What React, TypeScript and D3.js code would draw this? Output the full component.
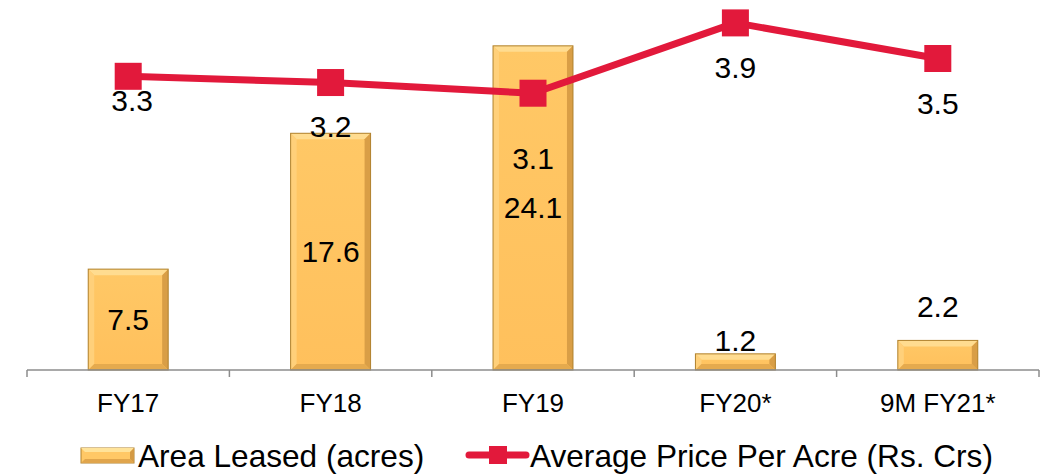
import React from "react";
import * as d3 from "d3";

const categories = ["FY17", "FY18", "FY19", "FY20*", "9M FY21*"];
const areaLeased = [7.5, 17.6, 24.1, 1.2, 2.2];
const avgPrice = [3.3, 3.23, 3.11, 3.9, 3.5];
const barLabelInside = [true, true, true, false, false];
const barLabelAboveOffset = [0, 0, 0, 13, 34];
const priceLabelOffset = [24, 44, 65, 45, 45];
const legendLabels = ["Area Leased (acres)", "Average Price Per Acre (Rs. Crs)"];

const W = 1046;
const H = 476;
const FONT = "'Liberation Sans', Arial, Helvetica, sans-serif";
const RED = "#E2193B";

export default function App() {
  const x = d3
    .scaleBand<string>()
    .domain(categories)
    .range([27, 1039])
    .paddingInner(0.605)
    .paddingOuter(0.3025);
  const step = x.step();
  const bw = x.bandwidth();
  const yBar = d3.scaleLinear().domain([0, 25]).range([370, 33.75]);
  const yLine = d3.scaleLinear().domain([0, 4]).range([370, 14]);
  const cx = (c: string) => (x(c) as number) + bw / 2;

  const line = d3
    .line<number>()
    .x((_, i) => cx(categories[i]))
    .y((d) => yLine(d));

  const bev = 6;
  const ms = 27;

  return (
    <svg
      width={W}
      height={H}
      style={{ position: "absolute", left: 0, top: 0, background: "#fff" }}
    >
      <defs>
        <linearGradient id="barFace" x1="0" y1="0" x2="0" y2="1">
          <stop offset="0" stopColor="#FFC866" />
          <stop offset="1" stopColor="#FFC05C" />
        </linearGradient>
      </defs>
      {areaLeased.map((v, i) => {
        const x0 = x(categories[i]) as number;
        const x1 = x0 + bw;
        const y0 = yBar(v);
        const y1 = yBar(0);
        const b = Math.min(bev, (y1 - y0) / 2.5);
        return (
          <g key={"bar" + i}>
            <rect x={x0} y={y0} width={bw} height={y1 - y0} fill="url(#barFace)" />
            <polygon
              points={`${x0},${y0} ${x1},${y0} ${x1 - b},${y0 + b} ${x0 + b},${y0 + b}`}
              fill="#FFDC90"
            />
            <polygon
              points={`${x0},${y0} ${x0 + b},${y0 + b} ${x0 + b},${y1 - b} ${x0},${y1}`}
              fill="#FFD07A"
            />
            <polygon
              points={`${x1},${y0} ${x1},${y1} ${x1 - b},${y1 - b} ${x1 - b},${y0 + b}`}
              fill="#D99E46"
            />
            <polygon
              points={`${x0},${y1} ${x1},${y1} ${x1 - b},${y1 - b} ${x0 + b},${y1 - b}`}
              fill="#E5AA4E"
            />
            <rect
              x={x0}
              y={y0}
              width={bw}
              height={y1 - y0}
              fill="none"
              stroke="#B0822F"
              strokeWidth={1}
            />
          </g>
        );
      })}
      {/* axis */}
      <line x1={27} x2={1039} y1={370} y2={370} stroke="#8C8C8C" strokeWidth={1.5} />
      {d3.range(categories.length + 1).map((i) => {
        const tx = 27 + i * step;
        return (
          <line key={"t" + i} x1={tx} x2={tx} y1={370} y2={377} stroke="#8C8C8C" strokeWidth={1.5} />
        );
      })}
      {categories.map((c) => (
        <text
          key={"lab" + c}
          x={cx(c)}
          y={412}
          textAnchor="middle"
          fontFamily={FONT}
          fontSize={26}
          fill="#000"
        >
          {c}
        </text>
      ))}
      {/* bar labels */}
      {areaLeased.map((v, i) => {
        const c = categories[i];
        const yy = barLabelInside[i]
          ? (yBar(v) + yBar(0)) / 2
          : yBar(v) - barLabelAboveOffset[i];
        return (
          <text
            key={"bl" + i}
            x={cx(c)}
            y={yy}
            dy="0.35em"
            textAnchor="middle"
            fontFamily={FONT}
            fontSize={30}
            fill="#000"
          >
            {v.toFixed(1)}
          </text>
        );
      })}
      {/* line */}
      <path d={line(avgPrice) || ""} fill="none" stroke={RED} strokeWidth={7} strokeLinejoin="round" />
      {avgPrice.map((v, i) => (
        <rect
          key={"m" + i}
          x={cx(categories[i]) - ms / 2}
          y={yLine(v) - ms / 2}
          width={ms}
          height={ms}
          fill={RED}
        />
      ))}
      {avgPrice.map((v, i) => (
        <text
          key={"pl" + i}
          x={cx(categories[i]) + (i === 0 ? 4 : 0)}
          y={yLine(v) + priceLabelOffset[i]}
          dy="0.35em"
          textAnchor="middle"
          fontFamily={FONT}
          fontSize={30}
          fill="#000"
        >
          {v.toFixed(1)}
        </text>
      ))}
      {/* legend */}
      <g>
        <rect x={81} y={448} width={53} height={15} fill="#FFC866" stroke="#B0822F" strokeWidth={1} />
        <polygon points="81,448 134,448 130,452 85,452" fill="#FFE39A" />
        <polygon points="81,463 134,463 130,459 85,459" fill="#E0A54C" />
        <polygon points="134,448 134,463 130,459 130,452" fill="#D49A44" />
        <text x={138} y={467} fontFamily={FONT} fontSize={31.6} fill="#000">
          {legendLabels[0]}
        </text>
        <line x1={469} x2={526} y1={455} y2={455} stroke={RED} strokeWidth={7} strokeLinecap="round" />
        <rect x={489} y={446} width={18} height={18} fill={RED} />
        <text x={530} y={467} fontFamily={FONT} fontSize={31.6} fill="#000">
          {legendLabels[1]}
        </text>
      </g>
    </svg>
  );
}
